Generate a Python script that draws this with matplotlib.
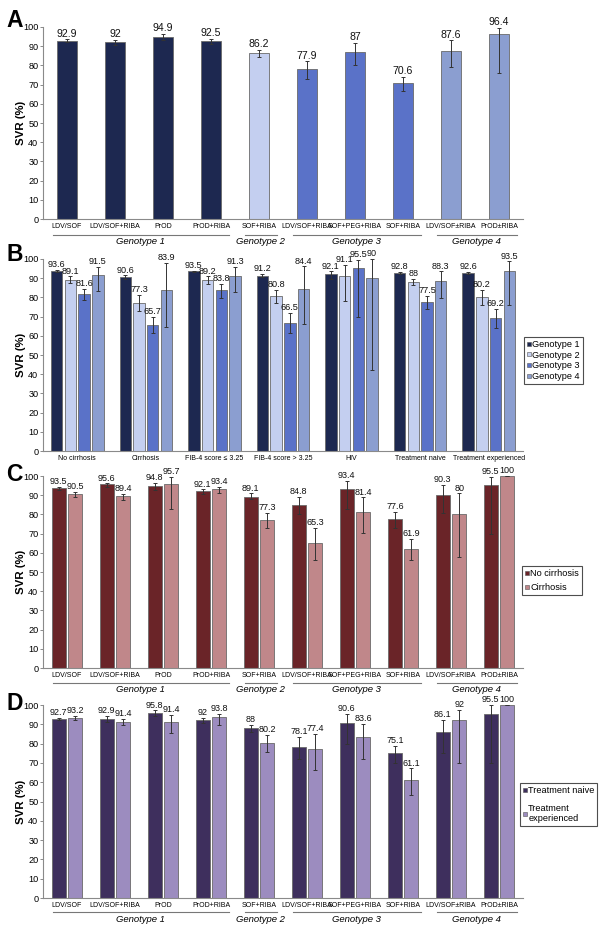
import matplotlib
matplotlib.use("Agg")
import matplotlib.pyplot as plt
from matplotlib.lines import Line2D
import numpy as np

plt.rcParams['font.family'] = ['Liberation Sans', 'DejaVu Sans']

# ---------------- data ----------------
regimens = ["LDV/SOF", "LDV/SOF+RIBA", "PrOD", "PrOD+RIBA", "SOF+RIBA",
            "LDV/SOF+RIBA", "SOF+PEG+RIBA", "SOF+RIBA", "LDV/SOF±RIBA", "PrOD±RIBA"]
regimen_genotype = [1, 1, 1, 1, 2, 3, 3, 3, 4, 4]
genotype_labels = ["Genotype 1", "Genotype 2", "Genotype 3", "Genotype 4"]

a_svr = [92.9, 92, 94.9, 92.5, 86.2, 77.9, 87, 70.6, 87.6, 96.4]
a_low = [92.2, 90.8, 93.0, 91.2, 84.5, 73.0, 80.0, 66.8, 79.0, 76.0]
a_high = [93.6, 93.2, 96.6, 93.8, 88.0, 82.1, 91.7, 74.0, 93.0, 99.7]

subgroups = ["No cirrhosis", "Cirrhosis", "FIB-4 score ≤ 3.25", "FIB-4 score > 3.25",
             "HIV", "Treatment naive", "Treatment experienced"]
b_g1 = [93.6, 90.6, 93.5, 91.2, 92.1, 92.8, 92.6]
b_g1_low = [93.0, 89.6, 93.0, 90.4, 89.5, 92.4, 92.1]
b_g1_high = [94.3, 91.5, 94.0, 92.2, 93.5, 93.2, 93.1]
b_g2 = [89.1, 77.3, 89.2, 80.8, 91.1, 88, 80.2]
b_g2_low = [87.5, 73.0, 87.0, 77.0, 77.9, 86.6, 76.0]
b_g2_high = [91.0, 81.4, 91.0, 84.0, 97.0, 89.5, 84.0]
b_g3 = [81.6, 65.7, 83.8, 66.5, 95.5, 77.5, 69.2]
b_g3_low = [78.4, 61.3, 79.6, 61.3, 70.0, 74.0, 64.0]
b_g3_high = [84.3, 69.7, 87.0, 71.8, 99.6, 80.8, 73.9]
b_g4 = [91.5, 83.9, 91.3, 84.4, 90, 88.3, 93.5]
b_g4_low = [83.4, 64.8, 83.0, 66.0, 42.0, 79.6, 76.0]
b_g4_high = [95.8, 97.9, 95.8, 96.2, 100.0, 93.5, 98.8]

c_nocirr = [93.5, 95.6, 94.8, 92.1, 89.1, 84.8, 93.4, 77.6, 90.3, 95.5]
c_nocirr_low = [92.8, 94.1, 92.7, 90.6, 87.8, 80.0, 82.7, 72.8, 80.6, 69.8]
c_nocirr_high = [94.2, 96.2, 96.5, 93.0, 91.0, 89.3, 97.4, 81.5, 95.3, 99.7]
c_cirr = [90.5, 89.4, 95.7, 93.4, 77.3, 65.3, 81.4, 61.9, 80, 100]
c_cirr_low = [88.9, 87.5, 83.0, 91.0, 72.8, 56.3, 70.2, 56.0, 58.0, 100]
c_cirr_high = [91.9, 90.5, 99.7, 94.5, 80.6, 72.8, 88.9, 67.1, 91.0, 100]

d_naive = [92.7, 92.9, 95.8, 92, 88, 78.1, 90.6, 75.1, 86.1, 95.5]
d_naive_low = [92.0, 91.4, 94.3, 90.7, 86.2, 72.0, 79.6, 70.0, 75.3, 69.7]
d_naive_high = [93.4, 94.2, 97.2, 93.3, 89.8, 83.5, 95.3, 78.7, 92.2, 100]
d_exp = [93.2, 91.4, 91.4, 93.8, 80.2, 77.4, 83.6, 61.1, 92, 100]
d_exp_low = [92.2, 89.5, 85.3, 89.6, 75.8, 66.4, 71.8, 53.3, 70.2, 100]
d_exp_high = [94.5, 92.7, 94.8, 95.3, 84.4, 84.9, 90.1, 67.1, 97.4, 100]

geno_colors = ['#1d2850', '#c4cff0', '#5a72c8', '#8b9ed0']
c_colors = ['#6a2428', '#c0878a']
d_colors = ['#3e2f5d', '#9c8cbf']

# ---------------- figure ----------------
W, H = 601, 938
fig = plt.figure(figsize=(W / 100, H / 100), dpi=100)

def rect(top_px, bot_px):
    return [43 / W, 1 - bot_px / H, 480 / W, (bot_px - top_px) / H]

EDGE = '#6a6a6a'
ERRC = '#333333'

def style_axis(ax, xlabels, xfs=5.0):
    ax.set_ylim(0, 100)
    ax.set_yticks(np.arange(0, 101, 10))
    ax.tick_params(axis='y', labelsize=6.6, length=2.5, width=0.6, color='#777777', pad=0.8)
    ax.tick_params(axis='x', length=0, labelsize=xfs, pad=3)
    for s in ['top', 'right']:
        ax.spines[s].set_visible(False)
    for s in ['left', 'bottom']:
        ax.spines[s].set_color('#8a8a8a')
        ax.spines[s].set_linewidth(0.8)
    ax.set_ylabel('SVR (%)', fontsize=8.2, fontweight='bold')
    ax.yaxis.set_label_coords(-0.036, 0.5)
    ax.set_xticks(np.arange(len(xlabels)))
    ax.set_xticklabels(xlabels)

def bars(ax, x, vals, lo, hi, colors, width, fs):
    vals = np.asarray(vals, float)
    lo = np.asarray(lo, float)
    hi = np.asarray(hi, float)
    ax.bar(x, vals, width=width, color=colors, edgecolor=EDGE, linewidth=0.6, zorder=2)
    yerr = np.vstack([vals - lo, hi - vals])
    ax.errorbar(x, vals, yerr=yerr, fmt='none', ecolor=ERRC, elinewidth=0.7,
                capsize=1.2, capthick=0.7, zorder=3)
    for xi, v, h in zip(x, vals, hi):
        ax.text(xi, max(h, v) + 0.4, f"{v:g}", ha='center', va='bottom',
                fontsize=fs, color='#111111', zorder=4)

def genotype_groups(ax, line_y, text_y):
    tr = ax.get_xaxis_transform()
    gen = np.asarray(regimen_genotype)
    for g, lab in enumerate(genotype_labels, start=1):
        idx = np.where(gen == g)[0]
        x0, x1 = idx.min() - 0.3, idx.max() + 0.37
        ax.plot([x0, x1], [line_y, line_y], color='#777777', lw=0.8,
                transform=tr, clip_on=False)
        ax.text((x0 + x1) / 2, text_y, lab, transform=tr, ha='center', va='center',
                fontsize=6.8, style='italic')

def legend(ax, labels, colors, x_px, y_px, spacing):
    handles = [Line2D([], [], marker='s', linestyle='', markersize=3.2,
                      markerfacecolor=c, markeredgecolor='#555555', markeredgewidth=0.4)
               for c in colors]
    lg = fig.legend(handles, labels, loc='upper left',
                    bbox_to_anchor=(x_px / W, 1 - y_px / H),
                    fontsize=6.6, handlelength=0.5, handletextpad=0.1,
                    borderpad=0.3, labelspacing=spacing, frameon=True,
                    fancybox=False, borderaxespad=0)
    lg.get_frame().set_edgecolor('#222222')
    lg.get_frame().set_linewidth(0.8)

# ---- Panel A ----
axA = fig.add_axes(rect(27, 219))
xA = np.arange(len(regimens))
bars(axA, xA, a_svr, a_low, a_high, [geno_colors[g - 1] for g in regimen_genotype], 0.4, 7.6)
style_axis(axA, regimens)
axA.set_xlim(-0.5, len(regimens) - 0.5)
genotype_groups(axA, -0.083, -0.115)

# ---- Panel B ----
axB = fig.add_axes(rect(259, 451))
xB = np.arange(len(subgroups))
step = 0.2
series_b = [(b_g1, b_g1_low, b_g1_high), (b_g2, b_g2_low, b_g2_high),
            (b_g3, b_g3_low, b_g3_high), (b_g4, b_g4_low, b_g4_high)]
for k, (v, lo, hi) in enumerate(series_b):
    bars(axB, xB + (k - 1.5) * step, v, lo, hi, geno_colors[k], 0.165, 6.6)
style_axis(axB, subgroups)
axB.set_xlim(-0.5, len(subgroups) - 0.5)
legend(axB, genotype_labels, geno_colors, 524, 337, 0.2)

# ---- Panel C ----
axC = fig.add_axes(rect(476, 668))
xC = np.arange(len(regimens))
bars(axC, xC - 0.17, c_nocirr, c_nocirr_low, c_nocirr_high, c_colors[0], 0.29, 6.5)
bars(axC, xC + 0.17, c_cirr, c_cirr_low, c_cirr_high, c_colors[1], 0.29, 6.5)
style_axis(axC, regimens)
axC.set_xlim(-0.5, len(regimens) - 0.5)
genotype_groups(axC, -0.078, -0.11)
legend(axC, ["No cirrhosis", "Cirrhosis"], c_colors, 522, 566, 0.55)

# ---- Panel D ----
axD = fig.add_axes(rect(705, 898))
xD = np.arange(len(regimens))
bars(axD, xD - 0.17, d_naive, d_naive_low, d_naive_high, d_colors[0], 0.29, 6.5)
bars(axD, xD + 0.17, d_exp, d_exp_low, d_exp_high, d_colors[1], 0.29, 6.5)
style_axis(axD, regimens)
axD.set_xlim(-0.5, len(regimens) - 0.5)
genotype_groups(axD, -0.073, -0.109)
legend(axD, ["Treatment naive", "Treatment\nexperienced"], d_colors, 520, 783, 1.0)

# ---- panel letters ----
for letter, top in [("A", 9), ("B", 243), ("C", 463), ("D", 692)]:
    fig.text(6 / W, 1 - top / H, letter, fontsize=16.5, fontweight='bold', va='top', ha='left')

fig.savefig("out.png", dpi=100)
